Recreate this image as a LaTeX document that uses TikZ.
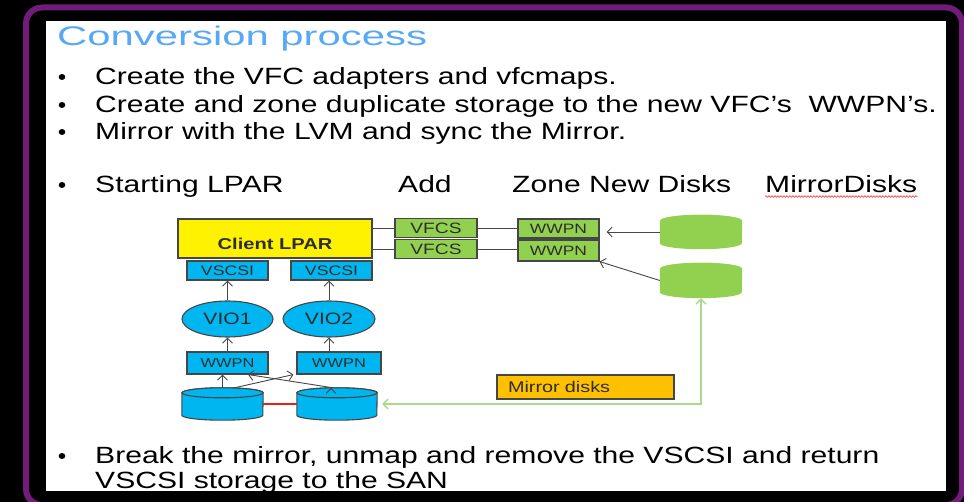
\documentclass[tikz,border=0pt]{standalone}
\usepackage{fontspec}
\setmainfont{Liberation Sans}[FakeStretch=1.28]
\newfontfamily\titlefont{Liberation Sans}[FakeStretch=1.55]
\usetikzlibrary{arrows.meta,calc,decorations.pathmorphing,shapes.geometric}

\definecolor{framepurple}{RGB}{112,28,120}
\definecolor{titleblue}{RGB}{88,168,245}
\definecolor{skyfill}{RGB}{0,182,240}
\definecolor{leaf}{RGB}{146,208,80}
\definecolor{amber}{RGB}{255,192,0}
\definecolor{mirrorgreen}{RGB}{170,218,140}
\definecolor{edge}{RGB}{70,70,70}
\definecolor{labeltext}{RGB}{45,45,45}
\definecolor{linkred}{RGB}{235,30,30}

% cylinder body plus top ellipse drawn over a named placeholder node
% #1 node, #2 style, #3 x radius, #4 y radius
\newcommand\drawdisk[4]{%
  \path[#2] ($(#1.north west)+(0,-#4)$) -- ($(#1.south west)+(0,#4)$)
    arc[start angle=180,end angle=360,x radius=#3pt,y radius=#4pt]
    -- ($(#1.north east)+(0,-#4)$)
    arc[start angle=0,end angle=180,x radius=#3pt,y radius=#4pt] -- cycle;
  \path[#2] ($(#1.north)+(0,-#4)$) ellipse[x radius=#3pt,y radius=#4pt];
}

\begin{document}
\begin{tikzpicture}[x=1pt,y=1pt,
  bodytext/.style={anchor=base west,inner sep=0,text=black,font=\fontsize{23.5}{28}\selectfont},
  box/.style={draw=edge,line width=1.1,inner sep=0,text=labeltext},
  skybox/.style={box,fill=skyfill,minimum width=81,font=\fontsize{13.8}{14}\selectfont},
  leafbox/.style={box,fill=leaf,minimum width=82,minimum height=19},
  vio/.style={ellipse,draw=edge,line width=1.1,fill=skyfill,inner sep=0,text=labeltext,
    minimum height=36,font=\fontsize{16.5}{17}\selectfont},
  diskspot/.style={inner sep=0,draw=none},
  skydisk/.style={draw=edge,line width=1.1,fill=skyfill},
  leafdisk/.style={fill=leaf},
  link/.style={draw=edge,line width=0.9},
  arr/.style={link,-{Straight Barb[length=5pt,width=10pt]}},
  bulletdot/.style={fill=black}
]
% page, frame and slide area
\useasboundingbox (0,0) rectangle (964,-502);
\fill[black] (0,0) rectangle (964,-502);
\draw[framepurple,line width=6,rounded corners=16] (26,-7.5) rectangle (962,-505);
\fill[white] (46,-21) rectangle (946,-491);

% heading and bullet lines
\node[anchor=base west,inner sep=0,text=titleblue,font=\titlefont\fontsize{27}{30}\selectfont]
  (title) at (57,-46) {Conversion process};

\node[bodytext] (b1) at (95,-85) {Create the VFC adapters and vfcmaps.};
\node[bodytext] (b2) at (95,-113) {Create and zone duplicate storage to the new VFC’s\ \ WWPN’s.};
\node[bodytext] (b3) at (95,-140) {Mirror with the LVM and sync the Mirror.};
\node[bodytext] (b4) at (95,-193) {Starting LPAR};
\node[bodytext] (add) at (398,-193) {Add};
\node[bodytext] (zone) at (512,-193) {Zone New Disks};
\node[bodytext] (md) at (765,-193) {MirrorDisks};
\node[bodytext] (b5) at (95,-464) {Break the mirror, unmap and remove the VSCSI and return};
\node[bodytext] (b5b) at (95,-488) {VSCSI storage to the SAN};

\foreach \yy in {77,105,132,185,456}
  \fill[bulletdot] (62,-\yy) ellipse[x radius=3.3pt,y radius=3pt];

% spelling squiggle under MirrorDisks
\draw[red!85,line width=0.6,decorate,decoration={snake,amplitude=0.8pt,segment length=3pt}]
  ($(md.base west)+(0,-3.5)$) -- ($(md.base east)+(0,-3.5)$);

% client partition and its adapters
\node[box,fill=yellow,minimum width=194,minimum height=39,
  font=\bfseries\fontsize{15.7}{16}\selectfont] (lpar) at (275,-238.5)
  {\raisebox{-5pt}[0.72em][0pt]{Client LPAR}};
\node[skybox,minimum height=19] (vscsi1) at (227.5,-270.5) {VSCSI};
\node[skybox,minimum height=19] (vscsi2) at (331.5,-270.5) {VSCSI};

\node[vio,minimum width=91] (vio1) at (227.5,-319) {VIO1};
\node[vio,minimum width=92] (vio2) at (329,-319) {VIO2};

\node[skybox,minimum height=22,font=\fontsize{12.8}{13}\selectfont] (wwpnA) at (227.5,-363) {WWPN};
\node[skybox,minimum height=22,minimum width=84,font=\fontsize{12.8}{13}\selectfont] (wwpnB) at (339,-363) {WWPN};

\node[diskspot,minimum width=81,minimum height=32] (diskL) at (222.5,-404) {};
\node[diskspot,minimum width=80,minimum height=32] (diskR) at (337,-404) {};
\drawdisk{diskL}{skydisk}{40.5}{5}
\drawdisk{diskR}{skydisk}{40}{5}

% new virtual fibre channel path
\node[leafbox,font=\fontsize{15}{16}\selectfont] (vfcs1) at (436,-228) {VFCS};
\node[leafbox,font=\fontsize{15}{16}\selectfont] (vfcs2) at (436,-249) {VFCS};
\node[leafbox,minimum width=81,font=\fontsize{13.6}{14}\selectfont] (wwpnG1) at (558.5,-228.5) {WWPN};
\node[leafbox,minimum width=81,minimum height=21,font=\fontsize{13.6}{14}\selectfont] (wwpnG2) at (558.5,-250.5) {WWPN};

\node[diskspot,minimum width=82,minimum height=34] (gdisk1) at (701,-232) {};
\node[diskspot,minimum width=82,minimum height=35] (gdisk2) at (701,-280.5) {};
\drawdisk{gdisk1}{leafdisk}{41}{6}
\drawdisk{gdisk2}{leafdisk}{41}{6}

\node[box,fill=amber,minimum width=177,minimum height=24,text width=155,align=left,
  font=\fontsize{15.5}{16}\selectfont] (mirror) at (585.5,-387) {Mirror disks};

% connectors
\draw[link] (lpar.east |- vfcs1.west) -- (vfcs1.west);
\draw[link] (lpar.east |- vfcs2.west) -- (vfcs2.west);
\draw[link] (vfcs1.east) -- (vfcs1.east -| wwpnG1.west);
\draw[link] (vfcs2.east) -- (vfcs2.east -| wwpnG2.west);
\draw[arr,shorten >=7pt] (gdisk1.west) -- (gdisk1.west -| wwpnG1.east);
\draw[arr] (gdisk2.west) -- (wwpnG2.south east);

\draw[arr] (vio1.north) -- (vio1.north |- vscsi1.south);
\draw[arr] (vio2.north) -- (vio2.north |- vscsi2.south);
\draw[arr] (wwpnA.north) -- (wwpnA.north |- vio1.south);
\draw[arr] (vio2.south |- wwpnB.north) -- (vio2.south);

\draw[arr] (diskL.north) -- (diskL.north |- wwpnA.south);
\draw[arr] ($(diskR.north)+(-6,0)$) -- ($(diskR.north)+(-6,0)$ |- wwpnB.south);
\draw[arr] ($(diskL.north)+(12,0)$) -- ($(wwpnB.south west)+(-3,0)$);
\draw[arr] ($(diskR.north)+(-4,0)$) -- ($(wwpnA.south)!0.5!(wwpnA.south east)$);

% mirror link between the two old disks, and the new mirror copy
\draw[linkred,line width=1.2] (diskL.east) -- (diskR.west);
\draw[mirrorgreen,line width=1.3,{Straight Barb[length=5pt,width=10pt]}-{Straight Barb[length=5pt,width=10pt]},shorten >=5pt]
  (gdisk2.south) |- (diskR.east);
\end{tikzpicture}
\end{document}
